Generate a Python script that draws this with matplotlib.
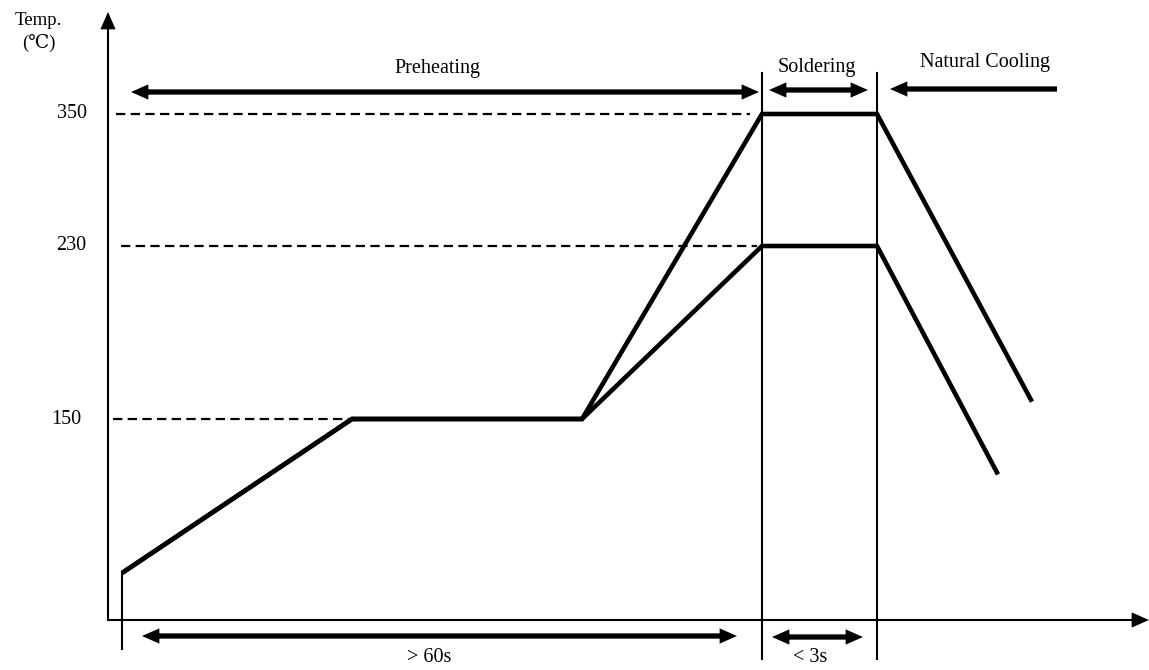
import numpy as np
import matplotlib
matplotlib.use('Agg')
import matplotlib.pyplot as plt

plt.rcParams['font.family'] = ['Liberation Serif', 'DejaVu Serif']

# ---------------- data (schematic profile) ----------------
phase_times = [0, 64, 75.5]          # start, soldering start, soldering end
ref_temps = [350, 230, 150]
ref_labels = ['350', '230', '150']
upper_t = [0, 23, 46, 64, 75.5, 91]
upper_T = [25, 150, 150, 350, 350, 158]
lower_t = [0, 23, 46, 64, 75.5, 87.6]
lower_T = [25, 150, 150, 230, 230, 105]
dash_start_t = [-0.6, -0.1, -0.9]
dash_end_t = [62.8, 63.5, 23]

# non-linear (schematic) temperature axis
T_anchor = np.array([-100, 0, 25, 150, 230, 350, 600])
H_anchor = np.array([-188, 0, 47, 201, 374, 506, 781])

def fwd(T):
    return np.interp(T, T_anchor, H_anchor)

def inv(h):
    return np.interp(h, H_anchor, T_anchor)

W, H = 1149, 670
fig = plt.figure(figsize=(W / 100, H / 100), dpi=100)
ax = fig.add_axes([0, 0, 1, 1])
ax.set_yscale('function', functions=(fwd, inv))
ax.axis('off')

def tx(px):
    return (px - 122) / 10.0

def ty(py):
    return float(inv(620 - py))

ax.set_xlim(tx(0), tx(W))
ax.set_ylim(ty(H), ty(0))

K = 'black'

def head_arrow(x_tip, y_tip, x_from, y_from, hl, hw, tw):
    ax.annotate('', xy=(x_tip, y_tip), xytext=(x_from, y_from),
                arrowprops=dict(arrowstyle=f'simple,head_length={hl},head_width={hw},tail_width={tw}',
                                lw=0, color=K, shrinkA=0, shrinkB=0, mutation_scale=1))

HL, HW, TW = 12.5, 11.0, 3.8
HL_PX = HL * 100 / 72.0

def single(px0, px1, py):
    head_arrow(tx(px0), ty(py), tx(px1), ty(py), HL, HW, TW)

def double(px0, px1, py):
    head_arrow(tx(px1), ty(py), tx(px0 + HL_PX - 3), ty(py), HL, HW, TW)
    head_arrow(tx(px0), ty(py), tx(px0 + HL_PX + 0.5), ty(py), HL, HW, TW)

# axes (thin shaft + filled head)
ax.plot([tx(108), tx(108)], [ty(621), ty(28)], color=K, lw=1.5, solid_capstyle='butt')
ax.plot([tx(107), tx(1135)], [ty(620), ty(620)], color=K, lw=1.5, solid_capstyle='butt')
head_arrow(tx(108), ty(12), tx(108), ty(45), 12.5, 11, 1.2)
head_arrow(tx(1149), ty(620), tx(1115), ty(620), 12.5, 11, 1.2)

# phase marker lines
ax.plot([phase_times[0]] * 2, [lower_T[0], ty(649)], color=K, lw=1.5)
for t in phase_times[1:]:
    ax.plot([t, t], [ty(73), ty(659)], color=K, lw=1.5)

# dashed reference lines
for T, x0, x1 in zip(ref_temps, dash_start_t, dash_end_t):
    ax.plot([x0, x1], [T, T], color=K, lw=1.6, dashes=(4.2, 2.4))

# profile lines
for t, T in ((upper_t, upper_T), (lower_t, lower_T)):
    ax.plot(t, T, color=K, lw=3.3, solid_joinstyle='miter', solid_capstyle='butt')

# tick labels
fs = 14.5
for T, lab, rx in zip(ref_temps, ref_labels, [87, 86, 81]):
    ax.text(tx(rx), T, lab, ha='right', va='center', fontsize=fs)

ax.text(tx(15), ty(25), 'Temp.', ha='left', va='baseline', fontsize=13.5)
ax.text(tx(22), ty(48), '(\u2103)', ha='left', va='baseline', fontsize=13.5)

# phase arrows
double(131, 759, 92)
double(769, 868, 90)
single(890, 1057, 89)
double(142, 737, 636)
double(772, 863, 637)

ax.text(tx(437), ty(73), 'Preheating', ha='center', va='baseline', fontsize=fs)
ax.text(tx(817), ty(72), 'Soldering', ha='center', va='baseline', fontsize=fs)
ax.text(tx(985), ty(67), 'Natural Cooling', ha='center', va='baseline', fontsize=fs)
ax.text(tx(429), ty(662), '> 60s', ha='center', va='baseline', fontsize=fs)
ax.text(tx(810), ty(662), '< 3s', ha='center', va='baseline', fontsize=fs)

fig.savefig('out.png', dpi=100, facecolor='white')
